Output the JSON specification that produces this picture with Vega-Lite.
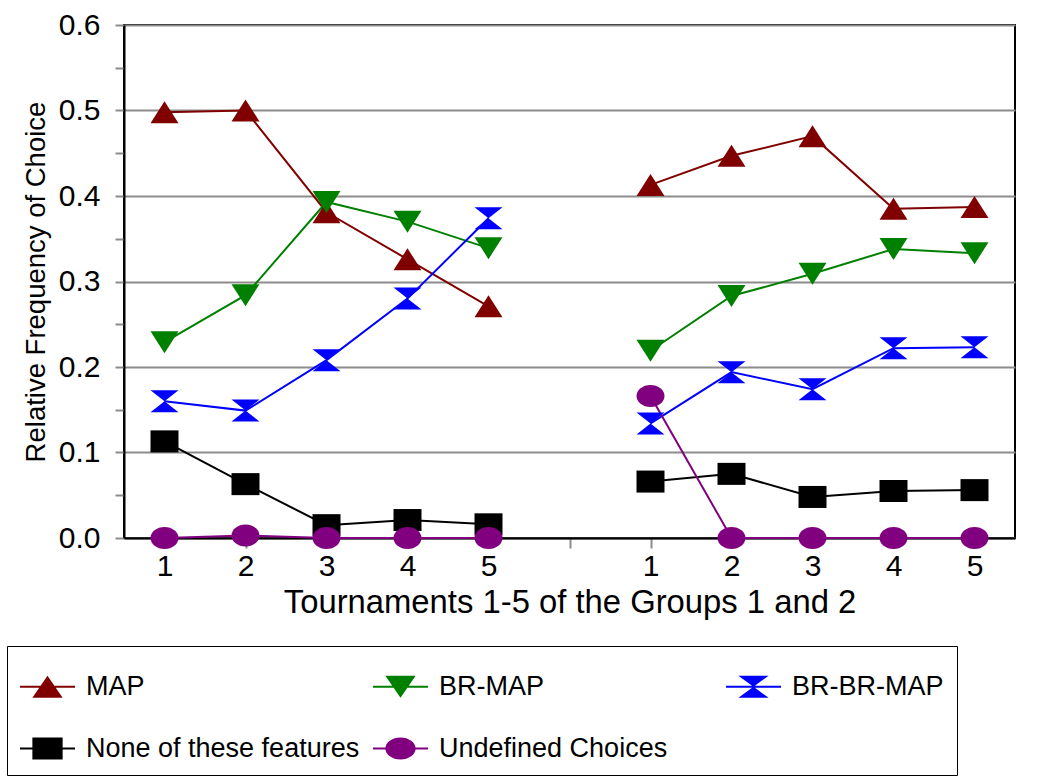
{
  "$schema": "https://vega.github.io/schema/vega-lite/v6.json",
  "width": 891,
  "height": 513,
  "autosize": {"type": "none"},
  "padding": {"left": 124, "top": 25, "right": 49, "bottom": 242},
  "background": "white",
  "config": {
    "font": "Liberation Sans",
    "view": {"stroke": "black", "strokeWidth": 2},
    "axis": {"labelFont": "Liberation Sans", "titleFont": "Liberation Sans", "labelColor": "black", "titleColor": "black", "titleFontWeight": "normal", "domainColor": "black", "domainWidth": 2, "tickColor": "#8c8c8c", "tickWidth": 2}
  },
  "data": {"values": [
    {"series": "MAP", "group": "1", "slot": "G1-1", "v": 0.498},
    {"series": "MAP", "group": "1", "slot": "G1-2", "v": 0.500},
    {"series": "MAP", "group": "1", "slot": "G1-3", "v": 0.381},
    {"series": "MAP", "group": "1", "slot": "G1-4", "v": 0.326},
    {"series": "MAP", "group": "1", "slot": "G1-5", "v": 0.271},
    {"series": "MAP", "group": "2", "slot": "G2-1", "v": 0.413},
    {"series": "MAP", "group": "2", "slot": "G2-2", "v": 0.447},
    {"series": "MAP", "group": "2", "slot": "G2-3", "v": 0.470},
    {"series": "MAP", "group": "2", "slot": "G2-4", "v": 0.385},
    {"series": "MAP", "group": "2", "slot": "G2-5", "v": 0.387},
    {"series": "BR-MAP", "group": "1", "slot": "G1-1", "v": 0.229},
    {"series": "BR-MAP", "group": "1", "slot": "G1-2", "v": 0.284},
    {"series": "BR-MAP", "group": "1", "slot": "G1-3", "v": 0.393},
    {"series": "BR-MAP", "group": "1", "slot": "G1-4", "v": 0.370},
    {"series": "BR-MAP", "group": "1", "slot": "G1-5", "v": 0.339},
    {"series": "BR-MAP", "group": "2", "slot": "G2-1", "v": 0.219},
    {"series": "BR-MAP", "group": "2", "slot": "G2-2", "v": 0.283},
    {"series": "BR-MAP", "group": "2", "slot": "G2-3", "v": 0.309},
    {"series": "BR-MAP", "group": "2", "slot": "G2-4", "v": 0.338},
    {"series": "BR-MAP", "group": "2", "slot": "G2-5", "v": 0.333},
    {"series": "BR-BR-MAP", "group": "1", "slot": "G1-1", "v": 0.160},
    {"series": "BR-BR-MAP", "group": "1", "slot": "G1-2", "v": 0.149},
    {"series": "BR-BR-MAP", "group": "1", "slot": "G1-3", "v": 0.208},
    {"series": "BR-BR-MAP", "group": "1", "slot": "G1-4", "v": 0.280},
    {"series": "BR-BR-MAP", "group": "1", "slot": "G1-5", "v": 0.374},
    {"series": "BR-BR-MAP", "group": "2", "slot": "G2-1", "v": 0.134},
    {"series": "BR-BR-MAP", "group": "2", "slot": "G2-2", "v": 0.194},
    {"series": "BR-BR-MAP", "group": "2", "slot": "G2-3", "v": 0.174},
    {"series": "BR-BR-MAP", "group": "2", "slot": "G2-4", "v": 0.222},
    {"series": "BR-BR-MAP", "group": "2", "slot": "G2-5", "v": 0.223},
    {"series": "None of these features", "group": "1", "slot": "G1-1", "v": 0.113},
    {"series": "None of these features", "group": "1", "slot": "G1-2", "v": 0.063},
    {"series": "None of these features", "group": "1", "slot": "G1-3", "v": 0.015},
    {"series": "None of these features", "group": "1", "slot": "G1-4", "v": 0.021},
    {"series": "None of these features", "group": "1", "slot": "G1-5", "v": 0.016},
    {"series": "None of these features", "group": "2", "slot": "G2-1", "v": 0.066},
    {"series": "None of these features", "group": "2", "slot": "G2-2", "v": 0.075},
    {"series": "None of these features", "group": "2", "slot": "G2-3", "v": 0.048},
    {"series": "None of these features", "group": "2", "slot": "G2-4", "v": 0.055},
    {"series": "None of these features", "group": "2", "slot": "G2-5", "v": 0.056},
    {"series": "Undefined Choices", "group": "1", "slot": "G1-1", "v": 0.0},
    {"series": "Undefined Choices", "group": "1", "slot": "G1-2", "v": 0.003},
    {"series": "Undefined Choices", "group": "1", "slot": "G1-3", "v": 0.0},
    {"series": "Undefined Choices", "group": "1", "slot": "G1-4", "v": 0.0},
    {"series": "Undefined Choices", "group": "1", "slot": "G1-5", "v": 0.0},
    {"series": "Undefined Choices", "group": "2", "slot": "G2-1", "v": 0.166},
    {"series": "Undefined Choices", "group": "2", "slot": "G2-2", "v": 0.0},
    {"series": "Undefined Choices", "group": "2", "slot": "G2-3", "v": 0.0},
    {"series": "Undefined Choices", "group": "2", "slot": "G2-4", "v": 0.0},
    {"series": "Undefined Choices", "group": "2", "slot": "G2-5", "v": 0.0}
  ]},
  "encoding": {
    "x": {
      "field": "slot", "type": "ordinal",
      "scale": {"type": "point", "padding": 0.5, "domain": ["G1-1", "G1-2", "G1-3", "G1-4", "G1-5", "gap", "G2-1", "G2-2", "G2-3", "G2-4", "G2-5"]},
      "axis": {"title": "Tournaments 1-5 of the Groups 1 and 2", "labelAngle": 0, "labelExpr": "datum.value == 'gap' ? '' : substring(datum.value, 3)", "labelFontSize": 30, "titleFontSize": 32.8, "tickSize": 10, "labelPadding": 3, "titlePadding": 5, "grid": false}
    },
    "y": {
      "field": "v", "type": "quantitative",
      "scale": {"domain": [0, 0.6], "nice": false, "zero": true},
      "axis": {
        "title": "Relative Frequency of Choice",
        "values": [0, 0.05, 0.1, 0.15, 0.2, 0.25, 0.3, 0.35, 0.4, 0.45, 0.5, 0.55, 0.6],
        "labelExpr": "round(datum.value * 100) % 10 == 0 ? format(datum.value, '.1f') : ''",
        "labelFontSize": 30, "titleFontSize": 27.5, "tickSize": 9, "labelPadding": 15, "titlePadding": 8,
        "grid": true, "gridColor": "#8c8c8c", "gridWidth": 2,
        "gridOpacity": {"condition": {"test": "round(datum.value * 100) % 10 != 0", "value": 0}, "value": 1}
      }
    },
    "color": {
      "field": "series", "type": "nominal",
      "scale": {"domain": ["Undefined Choices", "None of these features", "BR-BR-MAP", "BR-MAP", "MAP"], "range": ["#800080", "#000000", "#0000ff", "#008000", "#800000"]},
      "legend": null
    }
  },
  "layer": [
    {"mark": {"type": "line", "strokeWidth": 2}, "encoding": {"detail": {"field": "group"}}},
    {"transform": [{"filter": "datum.series == 'MAP'"}], "mark": {"type": "point", "filled": true, "opacity": 1, "size": 784, "strokeWidth": 0, "shape": "M0,-0.786L1,0.786L-1,0.786Z"}},
    {"transform": [{"filter": "datum.series == 'BR-MAP'"}], "mark": {"type": "point", "filled": true, "opacity": 1, "size": 784, "strokeWidth": 0, "shape": "M-1,-0.786L1,-0.786L0,0.786Z"}},
    {"transform": [{"filter": "datum.series == 'BR-BR-MAP'"}], "mark": {"type": "point", "filled": true, "opacity": 1, "size": 784, "strokeWidth": 0, "shape": "M-1,-0.786L1,-0.786L0,0L1,0.786L-1,0.786L0,0Z"}},
    {"transform": [{"filter": "datum.series == 'None of these features'"}], "mark": {"type": "point", "filled": true, "opacity": 1, "size": 784, "strokeWidth": 0, "shape": "M-1,-0.786H1V0.786H-1Z"}},
    {"transform": [{"filter": "datum.series == 'Undefined Choices'"}], "mark": {"type": "point", "filled": true, "opacity": 1, "size": 784, "strokeWidth": 0, "shape": "M-1,0A1,0.786 0 1,1 1,0A1,0.786 0 1,1 -1,0Z"}},
    {
      "transform": [{"filter": "false"}],
      "mark": {"type": "point", "filled": true, "opacity": 1, "size": 3025, "strokeWidth": 0},
      "encoding": {
        "fill": {
          "field": "series", "type": "nominal",
          "scale": {"domain": ["MAP", "BR-MAP", "BR-BR-MAP", "None of these features", "Undefined Choices"], "range": ["#800000", "#008000", "#0000ff", "#000000", "#800080"]},
          "legend": {"title": null, "orient": "none", "direction": "horizontal", "legendX": -117, "legendY": 621, "columns": 3, "gridAlign": "all", "columnPadding": 13, "rowPadding": 21, "padding": 13, "strokeColor": "black", "labelFont": "Liberation Sans", "labelFontSize": 27, "labelColor": "black", "labelLimit": 600, "labelOffset": 11, "symbolSize": 3025, "symbolStrokeWidth": 0, "symbolOffset": 0, "encode": {"legend": {"strokeWidth": {"value": 2}}}}
        },
        "shape": {
          "field": "series", "type": "nominal",
          "scale": {"domain": ["MAP", "BR-MAP", "BR-BR-MAP", "None of these features", "Undefined Choices"],
            "range": [
              "M-1,-0.036H1V0.036H-1ZM0,-0.4L0.55,0.4L-0.55,0.4Z",
              "M-1,-0.036H1V0.036H-1ZM-0.55,-0.4L0.55,-0.4L0,0.4Z",
              "M-1,-0.036H1V0.036H-1ZM-0.55,-0.4L0.55,-0.4L0,0L0.55,0.4L-0.55,0.4L0,0Z",
              "M-1,-0.036H1V0.036H-1ZM-0.55,-0.4H0.55V0.4H-0.55Z",
              "M-1,-0.036H1V0.036H-1ZM-0.55,0A0.55,0.4 0 1,1 0.55,0A0.55,0.4 0 1,1 -0.55,0Z"
            ]},
          "legend": {"title": null, "orient": "none", "direction": "horizontal", "legendX": -117, "legendY": 621, "columns": 3, "gridAlign": "all", "columnPadding": 13, "rowPadding": 21, "padding": 13, "strokeColor": "black", "labelFont": "Liberation Sans", "labelFontSize": 27, "labelColor": "black", "labelLimit": 600, "labelOffset": 11, "symbolSize": 3025, "symbolStrokeWidth": 0, "symbolOffset": 0}
        }
      }
    },
    {"data": {"values": [{}]}, "mark": {"type": "text", "font": "Liberation Sans", "fontSize": 31, "fontWeight": "bold", "baseline": "middle", "align": "center", "dx": 3}, "encoding": {"x": {"datum": "G1-4"}, "y": {"datum": 0.553}, "text": {"value": "Group 1"}, "color": {"value": "black"}}},
    {"data": {"values": [{}]}, "mark": {"type": "text", "font": "Liberation Sans", "fontSize": 31, "fontWeight": "bold", "baseline": "middle", "align": "center", "dx": 3}, "encoding": {"x": {"datum": "G2-4"}, "y": {"datum": 0.553}, "text": {"value": "Group 2"}, "color": {"value": "black"}}}
  ]
}
